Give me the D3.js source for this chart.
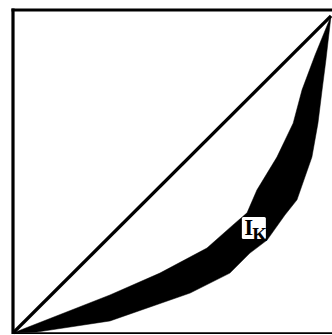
<!DOCTYPE html>
<html>
<head>
<meta charset="utf-8">
<script src="https://cdn.jsdelivr.net/npm/d3@7"></script>
<style>
  html, body { margin: 0; padding: 0; background: #fff; }
  svg { display: block; }
</style>
</head>
<body>
<svg id="chart" width="332" height="335"></svg>
<script>
// Inner (upper) Lorenz curve
const upperX = [0, 0.305, 0.462, 0.610, 0.692, 0.736, 0.767, 0.830, 0.881, 0.909, 0.950, 1];
const upperY = [0, 0.120, 0.189, 0.268, 0.341, 0.379, 0.451, 0.555, 0.662, 0.767, 0.877, 1];
// Outer (lower) Lorenz curve
const lowerX = [0, 0.075, 0.305, 0.431, 0.557, 0.682, 0.745, 0.799, 0.855, 0.893, 0.940, 0.959, 0.972, 0.984, 1];
const lowerY = [0, 0.003, 0.038, 0.082, 0.126, 0.189, 0.252, 0.293, 0.372, 0.420, 0.555, 0.662, 0.767, 0.861, 1];
// Equality line
const diagX = [0, 1];
const diagY = [0, 1];
// Label
const labelMain = "I";
const labelSub = "K";
const labelPos = [0.726, 0.303];

const svg = d3.select("#chart");
const x = d3.scaleLinear().domain([0, 1]).range([13, 331]);
const y = d3.scaleLinear().domain([0, 1]).range([333, 16]);

const upper = upperX.map((v, i) => [v, upperY[i]]);
const lower = lowerX.map((v, i) => [v, lowerY[i]]);
const diag = diagX.map((v, i) => [v, diagY[i]]);

const line = d3.line().x(d => x(d[0])).y(d => y(d[1])).curve(d3.curveLinear);

// frame
svg.append("line").attr("x1", 13).attr("x2", 13).attr("y1", 8.5).attr("y2", 334)
  .attr("stroke", "#000").attr("stroke-width", 3.2);
svg.append("line").attr("x1", 11.5).attr("x2", 332).attr("y1", 10).attr("y2", 10)
  .attr("stroke", "#000").attr("stroke-width", 3.2);
svg.append("line").attr("x1", 13).attr("x2", 332).attr("y1", 333.2).attr("y2", 333.2)
  .attr("stroke", "#000").attr("stroke-width", 1.8);

// shaded region between the curves
const region = upper.concat(lower.slice().reverse());
svg.append("path").attr("d", line(region) + "Z").attr("fill", "#000").attr("stroke", "#000").attr("stroke-width", 0.5);

// diagonal
svg.append("path").attr("d", line(diag)).attr("fill", "none")
  .attr("stroke", "#000").attr("stroke-width", 3.2);

// label
const lx = x(labelPos[0]), ly = y(labelPos[1]);
svg.append("rect").attr("x", lx - 2).attr("y", ly - 20).attr("width", 24).attr("height", 22)
  .attr("fill", "#fff").attr("rx", 1.5);
const t = svg.append("text").attr("x", lx + 0.5).attr("y", ly - 2)
  .attr("font-family", "Liberation Serif, Times New Roman, serif")
  .attr("font-weight", "bold").attr("fill", "#000");
t.append("tspan").attr("font-size", 23).text(labelMain);
t.append("tspan").attr("font-size", 19).attr("dy", 6).attr("dx", -1).text(labelSub);
</script>
</body>
</html>
